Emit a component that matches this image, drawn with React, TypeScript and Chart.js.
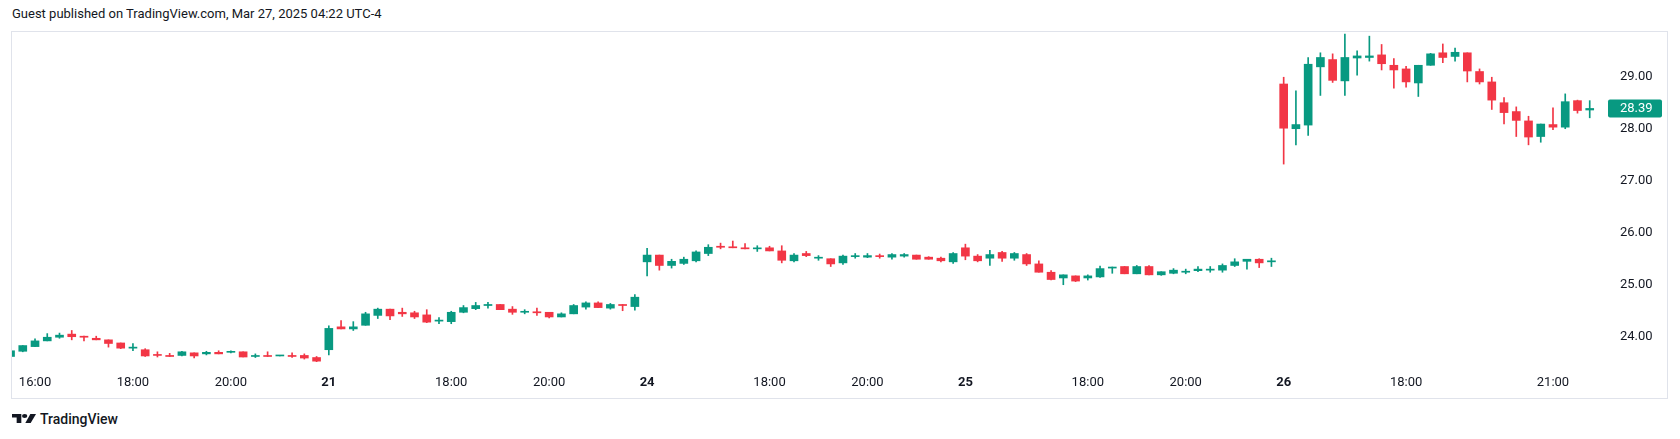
import React, { useEffect, useRef } from "react";
import { Chart, registerables } from "chart.js";

Chart.register(...registerables);

// 15-minute candles, five sessions (Mar 20, 21, 24, 25, 26), 26 candles each
const opens = [
  23.62, 23.72, 23.81, 23.92, 23.99, 24.05, 24.01, 23.97, 23.94, 23.88, 23.78, 23.75, 23.65, 23.64, 23.64, 23.69, 23.67, 23.70, 23.70, 23.71, 23.62, 23.63, 23.63, 23.64, 23.64, 23.60,
  23.75, 24.19, 24.15, 24.22, 24.41, 24.53, 24.47, 24.46, 24.42, 24.30, 24.29, 24.47, 24.54, 24.60, 24.62, 24.53, 24.47, 24.48, 24.47, 24.38, 24.44, 24.57, 24.65, 24.55, 24.62, 24.58,
  25.44, 25.57, 25.37, 25.41, 25.46, 25.60, 25.74, 25.73, 25.71, 25.69, 25.71, 25.65, 25.46, 25.60, 25.51, 25.50, 25.42, 25.54, 25.53, 25.55, 25.53, 25.55, 25.57, 25.53, 25.51, 25.44,
  25.71, 25.55, 25.51, 25.62, 25.51, 25.58, 25.40, 25.24, 25.13, 25.17, 25.13, 25.15, 25.32, 25.35, 25.21, 25.35, 25.19, 25.22, 25.24, 25.27, 25.28, 25.28, 25.37, 25.45, 25.49, 25.44,
  28.86, 28.00, 28.07, 29.19, 29.33, 28.92, 29.36, 29.37, 29.42, 29.22, 29.15, 28.88, 29.22, 29.46, 29.39, 29.46, 29.10, 28.90, 28.50, 28.33, 28.15, 27.85, 28.08, 28.03, 28.54, 28.36,
];
const highs = [
  23.73, 23.83, 23.96, 24.06, 24.07, 24.12, 24.01, 24.01, 23.94, 23.88, 23.87, 23.77, 23.71, 23.68, 23.72, 23.69, 23.72, 23.73, 23.73, 23.71, 23.67, 23.71, 23.64, 23.69, 23.67, 23.62,
  24.21, 24.31, 24.29, 24.47, 24.55, 24.53, 24.55, 24.49, 24.52, 24.37, 24.49, 24.60, 24.66, 24.66, 24.62, 24.58, 24.52, 24.55, 24.47, 24.46, 24.62, 24.67, 24.67, 24.64, 24.62, 24.81,
  25.70, 25.57, 25.49, 25.53, 25.65, 25.77, 25.80, 25.84, 25.79, 25.75, 25.74, 25.75, 25.60, 25.64, 25.56, 25.50, 25.57, 25.60, 25.60, 25.59, 25.60, 25.60, 25.57, 25.54, 25.53, 25.62,
  25.78, 25.58, 25.66, 25.64, 25.62, 25.60, 25.46, 25.27, 25.19, 25.17, 25.19, 25.36, 25.34, 25.35, 25.37, 25.37, 25.25, 25.31, 25.30, 25.35, 25.35, 25.40, 25.50, 25.49, 25.50, 25.51,
  28.99, 28.73, 29.37, 29.46, 29.44, 29.82, 29.50, 29.78, 29.62, 29.35, 29.20, 29.22, 29.45, 29.63, 29.55, 29.46, 29.15, 28.99, 28.60, 28.42, 28.24, 28.09, 28.40, 28.67, 28.55, 28.54,
];
const lows = [
  23.62, 23.71, 23.81, 23.92, 23.97, 23.94, 23.92, 23.94, 23.80, 23.77, 23.73, 23.62, 23.61, 23.62, 23.63, 23.59, 23.65, 23.67, 23.69, 23.61, 23.60, 23.62, 23.63, 23.60, 23.57, 23.52,
  23.65, 24.15, 24.12, 24.22, 24.35, 24.33, 24.39, 24.35, 24.27, 24.25, 24.25, 24.46, 24.52, 24.55, 24.52, 24.43, 24.44, 24.41, 24.36, 24.38, 24.44, 24.53, 24.56, 24.53, 24.50, 24.51,
  25.17, 25.28, 25.32, 25.39, 25.44, 25.56, 25.69, 25.71, 25.69, 25.64, 25.65, 25.42, 25.44, 25.54, 25.47, 25.35, 25.39, 25.51, 25.52, 25.51, 25.49, 25.53, 25.49, 25.49, 25.44, 25.41,
  25.48, 25.44, 25.37, 25.45, 25.47, 25.37, 25.24, 25.09, 25.00, 25.06, 25.09, 25.14, 25.22, 25.21, 25.21, 25.19, 25.18, 25.21, 25.21, 25.25, 25.24, 25.24, 25.35, 25.30, 25.33, 25.35,
  27.32, 27.69, 27.87, 28.64, 28.89, 28.64, 29.03, 29.30, 29.13, 28.78, 28.80, 28.62, 29.22, 29.27, 29.30, 28.90, 28.86, 28.37, 28.09, 27.85, 27.69, 27.74, 27.98, 28.00, 28.30, 28.21,
];
const closes = [
  23.73, 23.83, 23.92, 23.99, 24.03, 24.00, 23.99, 23.94, 23.87, 23.78, 23.80, 23.63, 23.64, 23.62, 23.71, 23.63, 23.70, 23.67, 23.71, 23.61, 23.63, 23.62, 23.64, 23.62, 23.59, 23.53,
  24.16, 24.15, 24.19, 24.44, 24.53, 24.40, 24.44, 24.38, 24.28, 24.32, 24.47, 24.56, 24.60, 24.62, 24.52, 24.47, 24.48, 24.46, 24.38, 24.44, 24.60, 24.65, 24.56, 24.62, 24.60, 24.76,
  25.57, 25.37, 25.45, 25.49, 25.63, 25.72, 25.72, 25.71, 25.69, 25.70, 25.65, 25.47, 25.57, 25.56, 25.52, 25.40, 25.55, 25.55, 25.56, 25.54, 25.58, 25.58, 25.49, 25.49, 25.46, 25.60,
  25.55, 25.46, 25.58, 25.51, 25.60, 25.40, 25.24, 25.10, 25.19, 25.07, 25.17, 25.31, 25.34, 25.21, 25.35, 25.19, 25.25, 25.28, 25.26, 25.30, 25.30, 25.37, 25.44, 25.49, 25.42, 25.46,
  28.01, 28.08, 29.24, 29.37, 28.93, 29.37, 29.40, 29.40, 29.25, 29.13, 28.90, 29.22, 29.44, 29.37, 29.47, 29.11, 28.90, 28.55, 28.31, 28.16, 27.84, 28.09, 28.03, 28.52, 28.35, 28.39,
];

// Time axis: candle index of each label, and its text
const timeTickIndex = [2, 10, 18, 26, 36, 44, 52, 62, 70, 78, 88, 96, 104, 114, 126];
const timeTickLabels = ["16:00", "18:00", "20:00", "21", "18:00", "20:00", "24", "18:00", "20:00", "25", "18:00", "20:00", "26", "18:00", "21:00"];
const priceTicks = [24, 25, 26, 27, 28, 29];

const UP = "#089981";
const DOWN = "#F23645";
const TEXT = "#131722";
const FONT = "Roboto";

export default function App() {
  const ref = useRef<HTMLCanvasElement>(null);

  useEffect(() => {
    if (!ref.current) return;
    const idx = opens.map((_, i) => i);
    const colors = idx.map((i) => (closes[i] >= opens[i] ? UP : DOWN));

    const lastPricePlugin = {
      id: "lastPrice",
      afterDraw(chart: any) {
        const { ctx, chartArea } = chart;
        const y = chart.scales.y;
        const last = closes[closes.length - 1];
        const py = y.getPixelForValue(last);
        ctx.save();
        ctx.fillStyle = UP;
        const bx = chartArea.right + 2;
        const by = py - 9;
        const bw = 54;
        const bh = 18;
        ctx.beginPath();
        if ((ctx as any).roundRect) (ctx as any).roundRect(bx, by, bw, bh, 2);
        else ctx.rect(bx, by, bw, bh);
        ctx.fill();
        ctx.fillStyle = "#ffffff";
        ctx.font = `13px ${FONT}`;
        ctx.textAlign = "left";
        ctx.textBaseline = "middle";
        ctx.fillText(last.toFixed(2), chartArea.right + 14, py + 0.5);
        ctx.restore();
      },
    };

    const chart = new Chart(ref.current, {
      type: "bar",
      data: {
        datasets: [
          {
            label: "body",
            data: idx.map((i) => ({ x: i, y: [opens[i], closes[i]] })) as any,
            backgroundColor: colors,
            barThickness: 8,
            minBarLength: 1,
            grouped: false,
            order: 0,
          } as any,
          {
            label: "wick",
            data: idx.map((i) => ({ x: i, y: [lows[i], highs[i]] })) as any,
            backgroundColor: colors,
            barThickness: 1,
            grouped: false,
            order: 1,
          } as any,
        ],
      },
      options: {
        animation: false,
        responsive: false,
        maintainAspectRatio: false,
        layout: { padding: 0 },
        plugins: { legend: { display: false }, tooltip: { enabled: false } },
        scales: {
          x: {
            type: "linear",
            offset: false,
            min: 0.12,
            max: 130.33,
            grid: { display: false, drawTicks: false, offset: false },
            border: { display: false },
            afterBuildTicks: (s: any) => {
              s.ticks = timeTickIndex.map((v) => ({ value: v }));
            },
            afterFit: (s: any) => {
              s.height = 28;
              s.paddingLeft = 0;
              s.paddingRight = 0;
              s.paddingTop = 0;
              s.paddingBottom = 0;
            },
            ticks: {
              autoSkip: false,
              maxRotation: 0,
              minRotation: 0,
              padding: 5,
              color: TEXT,
              callback: (_v: any, i: number) => timeTickLabels[i],
              font: (c: any) => {
                const lbl = timeTickLabels[c.index] || "";
                return { family: FONT, size: 13, weight: lbl.includes(":") ? "normal" : "bold" };
              },
            },
          } as any,
          y: {
            type: "linear",
            position: "right",
            min: 23.36,
            max: 29.86,
            grid: { display: false, drawTicks: false },
            border: { display: false },
            afterBuildTicks: (s: any) => {
              s.ticks = priceTicks.map((v) => ({ value: v }));
            },
            afterFit: (s: any) => {
              s.width = 61;
              s.paddingLeft = 0;
              s.paddingRight = 0;
              s.paddingTop = 0;
              s.paddingBottom = 0;
            },
            ticks: {
              padding: 14,
              color: TEXT,
              font: { family: FONT, size: 13 },
              callback: (v: any) => Number(v).toFixed(2),
            },
          } as any,
        },
      },
      plugins: [lastPricePlugin],
    });
    return () => chart.destroy();
  }, []);

  return (
    <div
      style={{
        position: "fixed",
        left: 0,
        top: 0,
        width: 1680,
        height: 439,
        background: "#ffffff",
        fontFamily: FONT,
        color: TEXT,
        overflow: "hidden",
      }}
    >
      <div style={{ position: "absolute", left: 12, top: 6, fontSize: 13, lineHeight: "16px", whiteSpace: "nowrap" }}>
        Guest published on TradingView.com, Mar 27, 2025 04:22 UTC-4
      </div>
      <div
        style={{
          position: "absolute",
          left: 11,
          top: 31,
          width: 1657,
          height: 368,
          border: "1px solid #e0e3eb",
          boxSizing: "border-box",
        }}
      />
      <canvas
        ref={ref}
        width={1655}
        height={366}
        style={{ position: "absolute", left: 12, top: 32, width: 1655, height: 366 }}
      />
      <svg
        style={{ position: "absolute", left: 12, top: 414 }}
        width={24}
        height={9}
        viewBox="0 4 36 18"
        preserveAspectRatio="none"
      >
        <path d="M14 22H7V11H0V4h14v18z" fill={TEXT} />
        <circle cx={19} cy={8} r={4} fill={TEXT} />
        <path d="M28 22h-8l7.5-18h8.5L28 22z" fill={TEXT} />
      </svg>
      <div
        style={{
          position: "absolute",
          left: 40,
          top: 410,
          fontSize: 14,
          lineHeight: "18px",
          fontWeight: 500,
          whiteSpace: "nowrap",
        }}
      >
        TradingView
      </div>
    </div>
  );
}
